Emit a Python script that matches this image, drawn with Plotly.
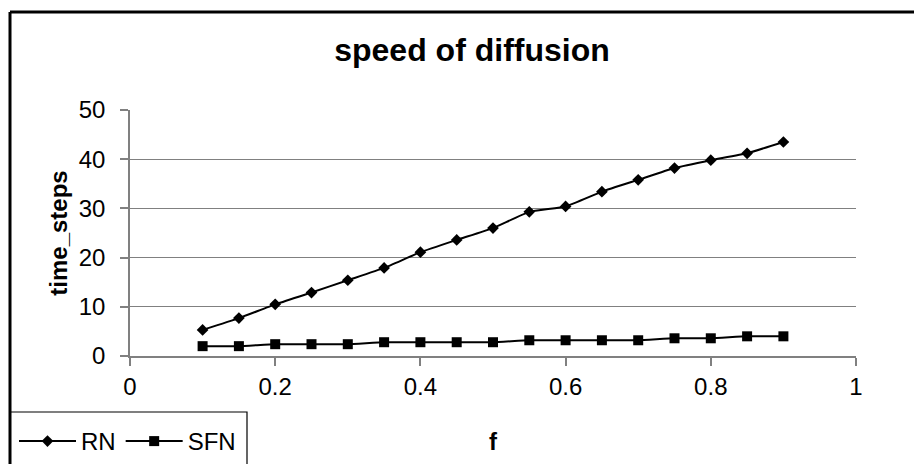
import plotly.graph_objects as go

f_values = [0.1, 0.15, 0.2, 0.25, 0.3, 0.35, 0.4, 0.45, 0.5, 0.55, 0.6, 0.65, 0.7, 0.75, 0.8, 0.85, 0.9]
rn_steps = [5.3, 7.7, 10.5, 12.9, 15.4, 17.9, 21.1, 23.6, 26.0, 29.3, 30.4, 33.4, 35.8, 38.2, 39.8, 41.2, 43.5]
sfn_steps = [2.0, 2.0, 2.4, 2.4, 2.4, 2.8, 2.8, 2.8, 2.8, 3.2, 3.2, 3.2, 3.2, 3.6, 3.6, 4.0, 4.0]
x_ticks = [0, 0.2, 0.4, 0.6, 0.8, 1]
y_ticks = [0, 10, 20, 30, 40, 50]

FONT = "Arial, 'Liberation Sans', sans-serif"
W, H = 914, 464
L, R, T, B = 130, 58, 110, 108
pw, ph = W - L - R, H - T - B

def px(xp):
    return (xp - L) / pw

def py(yp):
    return (H - B - yp) / ph

fig = go.Figure()
fig.add_trace(go.Scatter(
    x=f_values, y=rn_steps, name="RN", mode="lines+markers",
    line=dict(color="black", width=2, shape="spline", smoothing=0.4),
    marker=dict(symbol="diamond", size=9, color="black"),
))
fig.add_trace(go.Scatter(
    x=f_values, y=sfn_steps, name="SFN", mode="lines+markers",
    line=dict(color="black", width=2, shape="spline", smoothing=0.4),
    marker=dict(symbol="square", size=10, color="black"),
))

fig.update_layout(
    width=W, height=H,
    margin=dict(l=L, r=R, t=T, b=B, autoexpand=False),
    paper_bgcolor="white", plot_bgcolor="white",
    font=dict(family=FONT, size=24, color="black"),
    title=dict(text="<b>speed of diffusion</b>", xref="container", x=472 / W, xanchor="center",
               y=1 - 50 / H, yanchor="middle", font=dict(size=32, family=FONT)),
    showlegend=True,
    legend=dict(orientation="h", x=px(14), xanchor="left", y=py(419), yanchor="top",
                font=dict(size=24, family=FONT), bgcolor="rgba(0,0,0,0)",
                itemwidth=57, tracegroupgap=0),
    xaxis=dict(range=[0, 1], tickvals=x_ticks, ticktext=[str(v) for v in x_ticks],
               showline=True, linecolor="#808080", linewidth=1.5,
               ticks="outside", ticklen=8, tickcolor="#808080", tickwidth=1.5,
               showgrid=False, zeroline=False,
               title=dict(text="<b>f</b>", font=dict(size=24, family=FONT), standoff=35)),
    yaxis=dict(range=[0, 50], tickvals=y_ticks,
               showline=True, linecolor="#808080", linewidth=1.5,
               ticks="outside", ticklen=8, tickcolor="#808080", tickwidth=1.5,
               showgrid=True, gridcolor="#808080", gridwidth=1, zeroline=False,
               ticklabelstandoff=10,
               title=dict(text="<b>time_steps</b>", font=dict(size=24, family=FONT), standoff=4)),
    shapes=[
        dict(type="line", xref="paper", yref="paper", x0=px(10), x1=px(920), y0=py(12), y1=py(12),
             line=dict(color="black", width=3)),
        dict(type="line", xref="paper", yref="paper", x0=px(10), x1=px(10), y0=py(12), y1=py(470),
             line=dict(color="black", width=3)),
        dict(type="rect", xref="paper", yref="paper", x0=px(10), x1=px(247), y0=py(412), y1=py(470),
             line=dict(color="black", width=1.2), fillcolor="rgba(0,0,0,0)"),
    ],
)

fig.write_html("out.html")
